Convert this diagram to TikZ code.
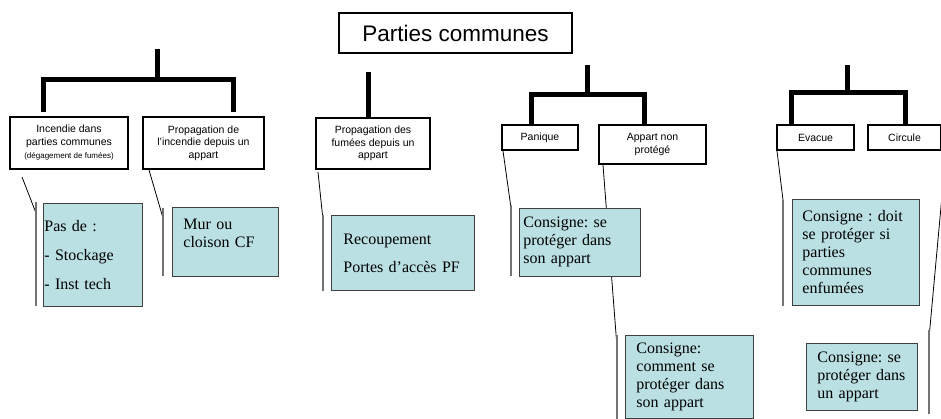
\documentclass[tikz,border=0pt]{standalone}
\usepackage{xcolor}
\usepackage{fontspec}
\setmainfont{Liberation Serif}
\setsansfont{Liberation Sans}
\usetikzlibrary{calc,backgrounds}
\definecolor{consignefill}{RGB}{186,224,227}

\begin{document}
\begin{tikzpicture}[x=1pt,y=-1pt,
  titre/.style={draw,line width=2pt,inner sep=0pt,anchor=north west,
    minimum width=233pt,minimum height=40pt,font=\sffamily\fontsize{22.5}{26}\selectfont},
  cas/.style={draw,line width=2pt,inner sep=0pt,anchor=north west,align=center,
    font=\sffamily\fontsize{10.5}{12.5}\selectfont},
  consigne/.style={draw=black!75,line width=0.8pt,fill=consignefill,inner sep=0pt,
    anchor=north west,align=left,font=\fontsize{16}{18}\selectfont\frenchspacing},
  branche/.style={line width=5pt},
  trait/.style={line width=0.8pt},
  barre/.style={line width=1.5pt,black!55}]
\useasboundingbox (0,0) rectangle (941,419);

\node[titre] (titre) at (338,12) {Parties communes};

% cases blanches
\node[cas,minimum width=118pt,minimum height=52pt] (inc) at (9,116)
  {Incendie dans\\parties communes\\[1pt]{\fontsize{8}{10}\selectfont(dégagement de fumées)}};
\node[cas,minimum width=121pt,minimum height=52pt] (prop) at (142,116)
  {Propagation de\\l'incendie depuis un\\appart};
\node[cas,minimum width=114pt,minimum height=51pt] (fum) at (315,117)
  {Propagation des\\fumées depuis un\\appart};
\node[cas,minimum width=76pt,minimum height=25pt] (pan) at (501,124) {Panique};
\node[cas,minimum width=107pt,minimum height=39pt] (app) at (598,124) {Appart non\\protégé};
\node[cas,minimum width=77pt,minimum height=25pt] (evac) at (776,124) {Evacue};
\node[cas,minimum width=73pt,minimum height=25pt] (circ) at (867,124) {Circule};

% consignes
\node[consigne,minimum width=99pt,minimum height=103pt,text width=97pt] (n1) at (43,203)
  {Pas de :\\[11pt]- Stockage\\[11pt]- Inst tech};
\node[consigne,minimum width=106pt,minimum height=69pt,text width=84pt] (n2) at (172,207)
  {Mur ou\\cloison CF\\\mbox{}};
\node[consigne,minimum width=143pt,minimum height=75pt,text width=119pt] (n3) at (331,215)
  {Recoupement\\[10pt]Portes d’accès PF};
\node[consigne,minimum width=121pt,minimum height=68pt,text width=113pt] (n4) at (519,208)
  {Consigne: se\\protéger dans\\son appart};
\node[consigne,minimum width=128pt,minimum height=83pt,text width=106pt] (n5) at (625,335)
  {Consigne:\\comment se\\protéger dans\\son appart};
\node[consigne,minimum width=127pt,minimum height=106pt,text width=107pt] (n6) at (792,199)
  {Consigne : doit\\se protéger si\\parties\\communes\\enfumées};
\node[consigne,minimum width=111pt,minimum height=67pt,text width=89pt] (n7) at (806,343)
  {Consigne: se\\protéger dans\\un appart};

% arbres
\coordinate (h1) at (157,49);
\coordinate (j1) at (157,80);
\draw[branche] (h1) -- (j1);
\draw[branche] ($(inc.north west)+(34,-4)$) |- (j1) -| ($(prop.north west)+(91,-4)$);
\coordinate (h2) at (368,72);
\draw[branche] (h2) -- (h2 |- fum.north);
\coordinate (h3) at (587,65);
\coordinate (j3) at (587,95);
\draw[branche] (h3) -- (j3);
\draw[branche] ($(pan.north west)+(30,0)$) |- (j3) -| ($(app.north west)+(46,0)$);
\coordinate (h4) at (847,65);
\coordinate (j4) at (847,93);
\draw[branche] (h4) -- (j4);
\draw[branche] ($(evac.north west)+(15,0)$) |- (j4) -| ($(circ.north west)+(38,0)$);

% bulles
\begin{pgfonlayer}{background}
\draw[trait] ($(inc.south west)+(13,7)$) -- ($(n1.north west)+(-7,10)$);
\draw[trait] ($(prop.south west)+(7,0)$) -- ($(n2.north west)+(-9,11)$);
\draw[trait] ($(fum.south west)+(3,2)$) -- ($(n3.north west)+(-8,5)$);
\draw[trait] ($(pan.south west)+(2,0)$) -- ($(n4.north west)+(-8,0)$);
\draw[trait] ($(app.south west)+(5,0)$) -- ($(n5.north west)+(-8,12)$);
\draw[trait] ($(evac.south west)+(1,0)$) -- ($(n6.north west)+(-9,1)$);
\draw[trait] ($(circ.south east)+(3,12)$) -- ($(n7.north east)+(11,-3)$);
\end{pgfonlayer}
\draw[barre] ($(n1.north west)+(-7,-1)$) -- ($(n1.south west)+(-7,-1)$);
\draw[barre] ($(n2.north west)+(-9,1)$) -- ($(n2.south west)+(-9,-1)$);
\draw[barre] ($(n3.north west)+(-8,0)$) -- ($(n3.south west)+(-8,0)$);
\draw[barre] ($(n4.north west)+(-8,-3)$) -- ($(n4.south west)+(-8,-1)$);
\draw[barre] ($(n5.north west)+(-8,0)$) -- ($(n5.south west)+(-8,1)$);
\draw[barre] ($(n6.north west)+(-9,1)$) -- ($(n6.south west)+(-9,0)$);
\draw[barre] ($(n7.north east)+(11,-13)$) -- ($(n7.south east)+(11,3)$);
\end{tikzpicture}
\end{document}
